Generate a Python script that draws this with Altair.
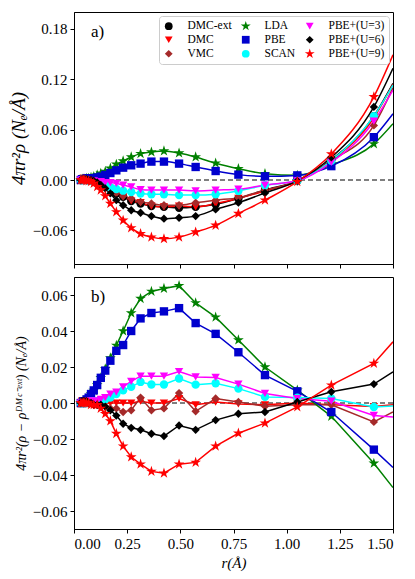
import altair as alt
import pandas as pd

# radial grid (Å) at which values are read; last point is the right edge (line only)
r_grid = [0.032, 0.038, 0.044, 0.051, 0.059, 0.069, 0.080, 0.093, 0.109, 0.126,
          0.147, 0.171, 0.199, 0.231, 0.269, 0.313, 0.364, 0.423, 0.494, 0.572,
          0.666, 0.773, 0.898, 1.05, 1.21, 1.41, 1.50]

plot_order = ["DMC-ext", "DMC", "VMC", "LDA", "PBE", "SCAN",
              "PBE+(U=3)", "PBE+(U=6)", "PBE+(U=9)"]

# panel a) 4πr²ρ
a_dmc_ext = [0.000, 0.001, 0.001, 0.001, 0.001, 0.000, 0.000, 0.000, -0.001, -0.003, -0.006, -0.010, -0.016, -0.020, -0.025, -0.028, -0.031, -0.032, -0.033, -0.032, -0.029, -0.022, -0.012, -0.001, 0.024, 0.076, 0.115]
a_dmc     = [0.000, 0.001, 0.002, 0.001, 0.001, 0.000, 0.000, 0.000, -0.001, -0.003, -0.006, -0.010, -0.016, -0.020, -0.025, -0.027, -0.031, -0.032, -0.031, -0.032, -0.028, -0.022, -0.013, -0.001, 0.023, 0.074, 0.114]
a_vmc     = [0.000, 0.000, 0.000, 0.000, 0.000, -0.001, -0.001, -0.002, -0.003, -0.005, -0.008, -0.011, -0.0155, -0.019, -0.022, -0.026, -0.028, -0.030, -0.030, -0.027, -0.024, -0.021, -0.012, -0.002, 0.023, 0.065, 0.110]
a_lda     = [0.000, 0.001, 0.001, 0.001, 0.002, 0.002, 0.003, 0.004, 0.006, 0.008, 0.010, 0.014, 0.0187, 0.0226, 0.0274, 0.0314, 0.0333, 0.0345, 0.0321, 0.0274, 0.020, 0.0135, 0.0075, 0.0056, 0.018, 0.043, 0.067]
a_pbe     = [0.000, 0.001, 0.001, 0.001, 0.002, 0.002, 0.002, 0.002, 0.003, 0.004, 0.006, 0.0083, 0.0115, 0.0147, 0.0175, 0.0195, 0.0219, 0.0219, 0.0195, 0.0155, 0.0107, 0.0064, 0.0044, 0.0055, 0.0165, 0.051, 0.079]
a_scan    = [0.000, 0.000, 0.000, 0.000, 0.000, -0.001, -0.001, -0.002, -0.003, -0.004, -0.006, -0.0087, -0.0107, -0.0127, -0.0143, -0.0162, -0.017, -0.017, -0.018, -0.018, -0.017, -0.013, -0.0063, -0.001, 0.023, 0.076, 0.113]
a_u3      = [0.000, 0.000, 0.000, 0.000, 0.000, -0.001, -0.001, -0.001, -0.002, -0.002, -0.003, -0.003, -0.004, -0.006, -0.0083, -0.0115, -0.012, -0.012, -0.012, -0.013, -0.012, -0.011, -0.006, -0.001, 0.021, 0.070, 0.107]
a_u6      = [0.000, 0.001, 0.001, 0.001, 0.001, 0.000, 0.000, -0.001, -0.003, -0.006, -0.010, -0.016, -0.024, -0.030, -0.036, -0.039, -0.043, -0.046, -0.045, -0.043, -0.035, -0.027, -0.0155, -0.001, 0.027, 0.087, 0.133]
a_u9      = [0.000, 0.000, 0.000, 0.000, -0.001, -0.001, -0.002, -0.004, -0.008, -0.012, -0.019, -0.028, -0.038, -0.048, -0.057, -0.064, -0.068, -0.070, -0.068, -0.062, -0.054, -0.040, -0.024, -0.002, 0.031, 0.099, 0.149]

# panel b) 4πr²(ρ − ρ_DMC-ext)
b_dmc  = [0.000, 0.001, 0.001, 0.000, 0.000, 0.000, 0.000, 0.000, 0.000, 0.000, 0.000, 0.000, 0.000, 0.000, 0.000, 0.001, 0.000, 0.000, 0.0025, -0.001, 0.0005, -0.0005, -0.001, 0.000, -0.001, -0.002, -0.001]
b_vmc  = [0.000, 0.000, 0.000, 0.000, 0.000, 0.000, 0.000, -0.001, -0.001, -0.002, -0.002, -0.003, -0.003, -0.005, -0.004, 0.003, -0.004, -0.003, 0.0055, -0.0046, 0.0025, 0.0006, -0.0018, -0.001, -0.001, -0.0105, -0.005]
b_lda  = [0.000, 0.000, 0.001, 0.001, 0.002, 0.003, 0.005, 0.007, 0.010, 0.014, 0.019, 0.025, 0.032, 0.040, 0.050, 0.058, 0.062, 0.0636, 0.0652, 0.0556, 0.0477, 0.035, 0.020, 0.0071, -0.0074, -0.0335, -0.047]
b_pbe  = [0.000, 0.000, 0.001, 0.001, 0.002, 0.003, 0.005, 0.007, 0.010, 0.014, 0.018, 0.0235, 0.029, 0.0322, 0.040, 0.047, 0.050, 0.0509, 0.0527, 0.0444, 0.0384, 0.0282, 0.0155, 0.0065, -0.005, -0.0259, -0.0358]
b_scan = [0.000, 0.000, 0.000, 0.000, 0.000, 0.000, 0.001, 0.001, 0.001, 0.001, 0.002, 0.003, 0.005, 0.007, 0.009, 0.0117, 0.0103, 0.0103, 0.0136, 0.0102, 0.011, 0.008, 0.0034, 0.003, 0.0025, -0.0022, -0.0017]
b_u3   = [0.000, 0.000, 0.000, 0.000, 0.000, 0.001, 0.001, 0.001, 0.001, 0.002, 0.003, 0.005, 0.006, 0.009, 0.012, 0.0149, 0.0149, 0.0149, 0.0175, 0.0145, 0.0142, 0.0105, 0.0053, 0.0025, 0.001, -0.0069, -0.0078]
b_u6   = [0.000, 0.001, 0.001, 0.001, 0.001, 0.000, 0.000, -0.001, -0.001, -0.001, -0.002, -0.004, -0.007, -0.0115, -0.0138, -0.0149, -0.0171, -0.0184, -0.0125, -0.0149, -0.0095, -0.006, -0.005, 0.0006, 0.0062, 0.0105, 0.0173]
b_u9   = [0.000, 0.000, 0.000, 0.000, 0.000, 0.000, -0.001, -0.001, -0.001, -0.003, -0.006, -0.010, -0.017, -0.024, -0.030, -0.034, -0.038, -0.039, -0.034, -0.033, -0.024, -0.0168, -0.0112, -0.0022, 0.0099, 0.022, 0.034]

colors = {"DMC-ext": "#000000", "DMC": "#ff0000", "VMC": "#a52a2a", "LDA": "#008000",
          "PBE": "#0000cd", "SCAN": "#00ffff", "PBE+(U=3)": "#ff00ff",
          "PBE+(U=6)": "#000000", "PBE+(U=9)": "#ff0000"}
STAR = ("M0,-1.35L0.303,-0.417L1.284,-0.417L0.49,0.159L0.794,1.092L0,0.516"
        "L-0.794,1.092L-0.49,0.159L-1.284,-0.417L-0.303,-0.417Z")
shapes = {"DMC-ext": "circle", "DMC": "triangle-down", "VMC": "diamond", "LDA": STAR,
          "PBE": "square", "SCAN": "circle", "PBE+(U=3)": "triangle-down",
          "PBE+(U=6)": "diamond", "PBE+(U=9)": STAR}

a_series = {"DMC-ext": a_dmc_ext, "DMC": a_dmc, "VMC": a_vmc, "LDA": a_lda, "PBE": a_pbe,
            "SCAN": a_scan, "PBE+(U=3)": a_u3, "PBE+(U=6)": a_u6, "PBE+(U=9)": a_u9}
b_series = {"DMC": b_dmc, "VMC": b_vmc, "LDA": b_lda, "PBE": b_pbe,
            "SCAN": b_scan, "PBE+(U=3)": b_u3, "PBE+(U=6)": b_u6, "PBE+(U=9)": b_u9}


def to_df(series):
    rows = []
    for name in plot_order:
        if name not in series:
            continue
        for i, (r, v) in enumerate(zip(r_grid, series[name])):
            rows.append({"series": name, "r": r, "v": v, "marker": i < len(r_grid) - 1})
    return pd.DataFrame(rows)


df_a = to_df(a_series)
df_b = to_df(b_series)

FONT = "Liberation Serif"
cscale = alt.Scale(domain=plot_order, range=[colors[k] for k in plot_order])
sscale = alt.Scale(domain=plot_order, range=[shapes[k] for k in plot_order])
x_ticks = [0.0, 0.25, 0.5, 0.75, 1.0, 1.25, 1.5]


def panel(df, ydom, yticks, ytitle, title_size, show_x, interp, label, with_legend):
    xenc = alt.X("r:Q", scale=alt.Scale(domain=[0, 1.5], nice=False, zero=False),
                 axis=alt.Axis(values=x_ticks, format=".2f", labels=show_x,
                               title="r(Å)" if show_x else None))
    yenc = alt.Y("v:Q", scale=alt.Scale(domain=ydom, nice=False, zero=False),
                 axis=alt.Axis(values=yticks, format=".2f", title=ytitle,
                               titleFontSize=title_size))
    if with_legend:
        leg = alt.Legend(title=None, orient="top-right", columns=3, offset=4,
                         padding=4, rowPadding=1, columnPadding=8, labelOffset=13,
                         symbolSize=60, symbolStrokeWidth=0,
                         labelFont=FONT, labelFontSize=11.5, labelLimit=120,
                         strokeColor="#cccccc", fillColor="white", cornerRadius=3)
    else:
        leg = None
    base = alt.Chart(df)
    zero = alt.Chart(pd.DataFrame({"z": [0.0]})).mark_rule(
        color="black", strokeDash=[5, 3], strokeWidth=1.2).encode(y="z:Q")
    lines = base.mark_line(strokeWidth=1.5, interpolate=interp, clip=True).encode(
        x=xenc, y=yenc,
        color=alt.Color("series:N", scale=cscale, legend=leg),
        detail="series:N", order="r:Q")
    pts = base.transform_filter("datum.marker").mark_point(
        filled=True, opacity=1, size=70, clip=True).encode(
        x="r:Q", y="v:Q",
        color=alt.Color("series:N", scale=cscale, legend=leg),
        shape=alt.Shape("series:N", scale=sscale, legend=leg))
    txt = alt.Chart(pd.DataFrame({"t": [label]})).mark_text(
        align="left", baseline="alphabetic", font=FONT, fontSize=17).encode(
        text="t:N", x=alt.value(17), y=alt.value(25))
    return alt.layer(zero, lines, pts, txt).properties(width=319, height=252)


pa = panel(df_a, [-0.1, 0.2], [-0.06, 0.0, 0.06, 0.12, 0.18],
           "4πr²ρ (Nₑ/Å)", 19, False, "monotone", "a)", True)
pb = panel(df_b, [-0.07, 0.07], [-0.06, -0.04, -0.02, 0.0, 0.02, 0.04, 0.06],
           "4πr²(ρ − ρᴰᴹᶜ⁻ᵉˣᵗ) (Nₑ/Å)", 14, True, "linear", "b)", False)

chart = alt.vconcat(pa, pb, spacing=7).resolve_scale(
    color="independent", shape="independent"
).properties(
    padding={"left": 0, "top": 3, "right": 5, "bottom": 5}
).configure_view(
    stroke="black", strokeWidth=1
).configure_axis(
    grid=False, domainColor="black", tickColor="black", labelColor="black",
    titleColor="black", labelFont=FONT, titleFont=FONT, labelFontSize=15,
    titleFontSize=15, titleFontWeight="normal", titleFontStyle="italic",
    tickSize=4, labelPadding=3, titlePadding=4, domainWidth=1, tickWidth=1
)

chart.save("out.html", embed_options={"renderer": "svg", "actions": False})
